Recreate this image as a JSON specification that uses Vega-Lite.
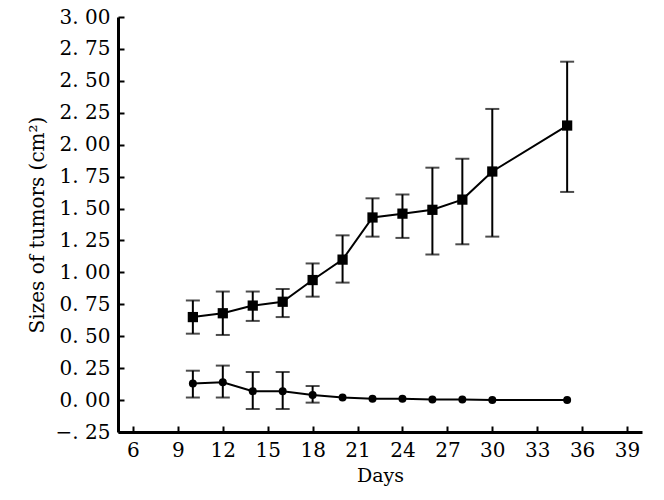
{
  "$schema": "https://vega.github.io/schema/vega-lite/v6.json",
  "autosize": "none",
  "width": 524,
  "height": 415,
  "padding": {"left": 118, "top": 17, "right": 22, "bottom": 68},
  "background": "white",
  "config": {
    "view": {"stroke": null},
    "font": "DejaVu Serif",
    "axis": {
      "domainColor": "black", "domainWidth": 3, "tickColor": "black", "tickWidth": 2,
      "tickSize": -6, "labelColor": "black", "titleColor": "black",
      "labelFont": "DejaVu Serif", "titleFont": "DejaVu Serif",
      "labelFontSize": 20, "titleFontSize": 19, "titleFontWeight": "normal", "grid": false,
      "labelOverlap": false, "labelFlush": false, "labelBound": false
    }
  },
  "data": {"values": [
    {"day": 10, "group": "tumor", "mean": 0.65, "lo": 0.52, "hi": 0.78},
    {"day": 12, "group": "tumor", "mean": 0.68, "lo": 0.51, "hi": 0.85},
    {"day": 14, "group": "tumor", "mean": 0.74, "lo": 0.62, "hi": 0.85},
    {"day": 16, "group": "tumor", "mean": 0.77, "lo": 0.65, "hi": 0.87},
    {"day": 18, "group": "tumor", "mean": 0.94, "lo": 0.81, "hi": 1.07},
    {"day": 20, "group": "tumor", "mean": 1.10, "lo": 0.92, "hi": 1.29},
    {"day": 22, "group": "tumor", "mean": 1.43, "lo": 1.28, "hi": 1.58},
    {"day": 24, "group": "tumor", "mean": 1.46, "lo": 1.27, "hi": 1.61},
    {"day": 26, "group": "tumor", "mean": 1.49, "lo": 1.14, "hi": 1.82},
    {"day": 28, "group": "tumor", "mean": 1.57, "lo": 1.22, "hi": 1.89},
    {"day": 30, "group": "tumor", "mean": 1.79, "lo": 1.28, "hi": 2.28},
    {"day": 35, "group": "tumor", "mean": 2.15, "lo": 1.63, "hi": 2.65},
    {"day": 10, "group": "control", "mean": 0.13, "lo": 0.02, "hi": 0.23},
    {"day": 12, "group": "control", "mean": 0.14, "lo": 0.02, "hi": 0.27},
    {"day": 14, "group": "control", "mean": 0.07, "lo": -0.07, "hi": 0.22},
    {"day": 16, "group": "control", "mean": 0.07, "lo": -0.07, "hi": 0.22},
    {"day": 18, "group": "control", "mean": 0.04, "lo": -0.02, "hi": 0.11},
    {"day": 20, "group": "control", "mean": 0.02, "lo": null, "hi": null},
    {"day": 22, "group": "control", "mean": 0.01, "lo": null, "hi": null},
    {"day": 24, "group": "control", "mean": 0.01, "lo": null, "hi": null},
    {"day": 26, "group": "control", "mean": 0.005, "lo": null, "hi": null},
    {"day": 28, "group": "control", "mean": 0.005, "lo": null, "hi": null},
    {"day": 30, "group": "control", "mean": 0.0, "lo": null, "hi": null},
    {"day": 35, "group": "control", "mean": 0.0, "lo": null, "hi": null}
  ]},
  "encoding": {
    "x": {"field": "day", "type": "quantitative",
      "scale": {"domain": [5, 40], "nice": false, "zero": false},
      "axis": {"title": "Days", "values": [6, 9, 12, 15, 18, 21, 24, 27, 30, 33, 36, 39], "tickCount": 12, "labelPadding": 14, "titlePadding": 6, "titleFontSize": 19}}
  },
  "layer": [
    {
      "transform": [{"filter": "datum.lo != null"}],
      "mark": {"type": "errorbar", "ticks": {"size": 14, "thickness": 2, "color": "black"}, "rule": {"strokeWidth": 2, "color": "black"}},
      "encoding": {
        "y": {"field": "lo", "type": "quantitative", "title": "Sizes of tumors (cm²)", "scale": {"domain": [-0.25, 3.0], "nice": false, "zero": false},
          "axis": {"values": [-0.25, 0, 0.25, 0.5, 0.75, 1, 1.25, 1.5, 1.75, 2, 2.25, 2.5, 2.75, 3], "tickCount": 14,
            "labelExpr": "datum.value < 0 ? '−. 25' : replace(format(datum.value, '.2f'), '.', '. ')", "labelPadding": 14, "titlePadding": 8, "titleFontSize": 20}},
        "y2": {"field": "hi"}
      }
    },
    {
      "mark": {"type": "line", "color": "black", "strokeWidth": 2},
      "encoding": {
        "y": {"field": "mean", "type": "quantitative", "title": "Sizes of tumors (cm²)"},
        "detail": {"field": "group"}
      }
    },
    {
      "mark": {"type": "point", "filled": true, "color": "black", "opacity": 1},
      "encoding": {
        "y": {"field": "mean", "type": "quantitative", "title": "Sizes of tumors (cm²)"},
        "shape": {"field": "group", "type": "nominal", "scale": {"domain": ["tumor", "control"], "range": ["square", "circle"]}, "legend": null},
        "size": {"field": "group", "type": "nominal", "scale": {"domain": ["tumor", "control"], "range": [105, 64]}, "legend": null}
      }
    }
  ]
}
